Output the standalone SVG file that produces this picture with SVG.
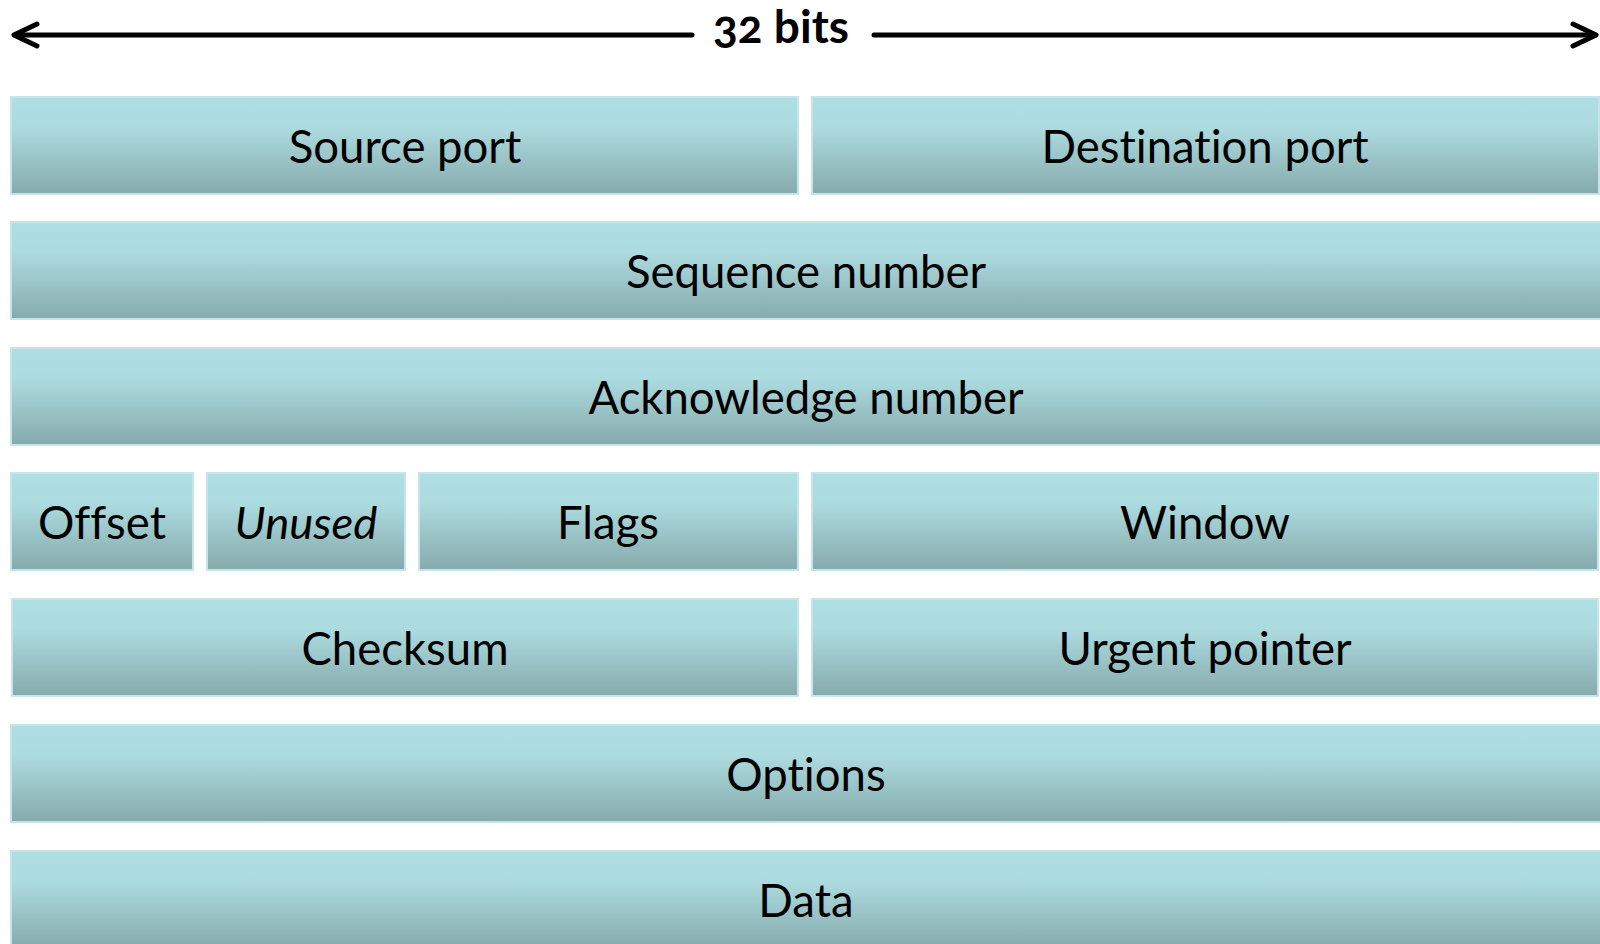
<svg xmlns="http://www.w3.org/2000/svg" width="1600" height="944" viewBox="0 0 1600 944">
  <defs>
    <linearGradient id="field-fill" x1="0" y1="0" x2="0" y2="1">
      <stop offset="0" stop-color="#b0dfe3"/>
      <stop offset="0.3" stop-color="#addce0"/>
      <stop offset="1" stop-color="#86aaac"/>
    </linearGradient>
  </defs>
  <style>
    .field { fill: url(#field-fill); stroke: #c4e6ea; stroke-width: 2; }
    .label { font-family: Lato, "Open Sans", sans-serif; font-size: 45.5px; fill: #000; text-anchor: middle; font-variant-ligatures: none; }
    .italic { font-style: italic; }
    .title { font-family: Lato, "Open Sans", sans-serif; font-size: 46px; font-weight: bold; fill: #000; text-anchor: middle; font-variant-numeric: oldstyle-nums; font-variant-ligatures: none; }
    .arrow { fill: none; stroke: #000; stroke-width: 5; stroke-linecap: round; stroke-linejoin: round; }
  </style>

  <!-- width indicator -->
  <g id="connectors">
    <line class="arrow" x1="15" y1="35" x2="692" y2="35"/>
    <polyline class="arrow" points="37,24 14,35 37,46"/>
    <line class="arrow" x1="874" y1="35" x2="1595" y2="35"/>
    <polyline class="arrow" points="1573,24 1596,35 1573,46"/>
  </g>
  <g id="title">
    <text class="title" x="781" y="43">32 bits</text>
  </g>

  <!-- row 1 -->
  <g id="source-port">
    <rect class="field" x="11" y="97" width="787" height="97"/>
    <text class="label" x="405" y="163">Source port</text>
  </g>
  <g id="destination-port">
    <rect class="field" x="812" y="97" width="787" height="97"/>
    <text class="label" x="1205" y="163">Destination port</text>
  </g>

  <!-- row 2 -->
  <g id="sequence-number">
    <rect class="field" x="11" y="222" width="1600" height="97"/>
    <text class="label" x="806" y="288">Sequence number</text>
  </g>

  <!-- row 3 -->
  <g id="acknowledge-number">
    <rect class="field" x="11" y="348" width="1600" height="97"/>
    <text class="label" x="806" y="414">Acknowledge number</text>
  </g>

  <!-- row 4 -->
  <g id="offset">
    <rect class="field" x="11" y="473" width="182" height="97"/>
    <text class="label" x="102" y="539">Offset</text>
  </g>
  <g id="unused">
    <rect class="field" x="207" y="473" width="198" height="97"/>
    <text class="label italic" x="306" y="539">Unused</text>
  </g>
  <g id="flags">
    <rect class="field" x="419" y="473" width="379" height="97"/>
    <text class="label" x="608" y="539">Flags</text>
  </g>
  <g id="window">
    <rect class="field" x="812" y="473" width="786" height="97"/>
    <text class="label" x="1205" y="539">Window</text>
  </g>

  <!-- row 5 -->
  <g id="checksum">
    <rect class="field" x="12" y="599" width="786" height="97"/>
    <text class="label" x="405" y="665">Checksum</text>
  </g>
  <g id="urgent-pointer">
    <rect class="field" x="812" y="599" width="786" height="97"/>
    <text class="label" x="1205" y="665">Urgent pointer</text>
  </g>

  <!-- row 6 -->
  <g id="options">
    <rect class="field" x="11" y="725" width="1600" height="97"/>
    <text class="label" x="806" y="791">Options</text>
  </g>

  <!-- row 7 -->
  <g id="data">
    <rect class="field" x="11" y="851" width="1600" height="97"/>
    <text class="label" x="806" y="917">Data</text>
  </g>
</svg>
